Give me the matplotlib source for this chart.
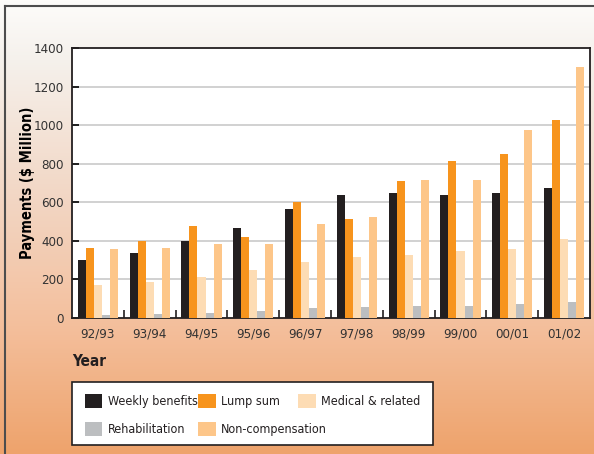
#!/usr/bin/env python3
import numpy as np
import matplotlib
matplotlib.use('Agg')
import matplotlib.pyplot as plt
from matplotlib.colors import LinearSegmentedColormap
from matplotlib.patches import Patch, Rectangle
from matplotlib.lines import Line2D

years = ['92/93', '93/94', '94/95', '95/96', '96/97',
         '97/98', '98/99', '99/00', '00/01', '01/02']
weekly = [300, 335, 400, 465, 565, 640, 650, 640, 650, 675]
lump = [365, 400, 475, 420, 600, 515, 710, 815, 850, 1025]
medical = [170, 185, 215, 250, 290, 315, 325, 350, 360, 410]
rehab = [15, 20, 25, 35, 50, 55, 60, 60, 75, 85]
noncomp = [360, 365, 385, 385, 490, 525, 715, 715, 975, 1300]

series = [('Weekly benefits', weekly, '#231f20'),
          ('Lump sum', lump, '#f7941d'),
          ('Medical & related', medical, '#fddcb4'),
          ('Rehabilitation', rehab, '#bcbec0'),
          ('Non-compensation', noncomp, '#fdc689')]

plt.rcParams['font.family'] = ['DejaVu Sans']
plt.rcParams['font.stretch'] = 'condensed'
plt.rcParams['text.color'] = '#231f20'

W, H = 594, 454
fig = plt.figure(figsize=(W / 100, H / 100), dpi=100)

# background gradient, light at the top, orange at the bottom
bg = fig.add_axes([0, 0, 1, 1], zorder=-10)
cmap = LinearSegmentedColormap.from_list('bg', [
    (0.0, '#fdfcfa'), (0.13, '#f5f1ec'), (0.45, '#f2d5c2'),
    (0.72, '#f4bf9c'), (1.0, '#eea36c')])
grad = np.linspace(0, 1, 256).reshape(-1, 1)
bg.imshow(grad, aspect='auto', cmap=cmap, extent=[0, 1, 1, 0])
bg.set_xlim(0, 1)
bg.set_ylim(1, 0)
bg.axis('off')

# outer border lines (left and top)
fig.add_artist(Line2D([4.5 / W, 4.5 / W], [0, 1 - 6 / H],
                      color='#4d4d4d', lw=1.5))
fig.add_artist(Line2D([4.5 / W, 1], [1 - 6 / H, 1 - 6 / H],
                      color='#4d4d4d', lw=1.5))

ax = fig.add_axes([72 / W, 136 / H, 518 / W, 270 / H])
ax.set_facecolor('white')

x = np.arange(len(years))
bw = 0.155
for i, (name, vals, col) in enumerate(series):
    ax.bar(x + (i - 2) * bw, vals, bw, color=col, zorder=3)

ax.set_xlim(-0.5, len(years) - 0.5)
ax.set_ylim(0, 1400)
ax.set_yticks(range(0, 1401, 200))
ax.set_xticks(x)
ax.set_xticklabels(years)
ax.set_xticks(x[:-1] + 0.5, minor=True)
ax.tick_params(axis='x', which='major', length=0, pad=7, labelsize=9.5,
               labelcolor='#333333')
ax.tick_params(axis='x', which='minor', direction='in', length=6, width=1.2,
               color='#231f20')
ax.tick_params(axis='y', direction='in', length=5, width=1.2, pad=6,
               labelsize=9.5, labelcolor='#333333')
for y in range(200, 1400, 200):
    ax.axhline(y, color='#c9c9c9', lw=1.2, zorder=1)
for s in ax.spines.values():
    s.set_color('#231f20')
    s.set_linewidth(1.3)

ax.set_ylabel('Payments ($ Million)', fontsize=10.5, fontweight='bold')
ax.yaxis.set_label_coords(-37 / 518, 0.5)
fig.text(72 / W, 1 - 361 / H, 'Year', fontsize=11, fontweight='bold',
         ha='left', va='center')

# legend box
fig.add_artist(Rectangle((72 / W, 1 - 445 / H), (433 - 72) / W, 63 / H,
                         transform=fig.transFigure, facecolor='white',
                         edgecolor='#231f20', lw=1.2))
pos = {'Weekly benefits': (85, 401), 'Lump sum': (198, 401),
       'Medical & related': (298, 401), 'Rehabilitation': (85, 429),
       'Non-compensation': (198, 429)}
for name, vals, col in series:
    px, py = pos[name]
    h = Patch(facecolor=col, edgecolor='none')
    fig.legend(handles=[h], labels=[name], loc='center left',
               bbox_to_anchor=(px / W, 1 - py / H), frameon=False,
               borderpad=0, borderaxespad=0, handlelength=1.4,
               handleheight=1.4, handletextpad=0.45, fontsize=9)

fig.savefig('out.png', dpi=100)
